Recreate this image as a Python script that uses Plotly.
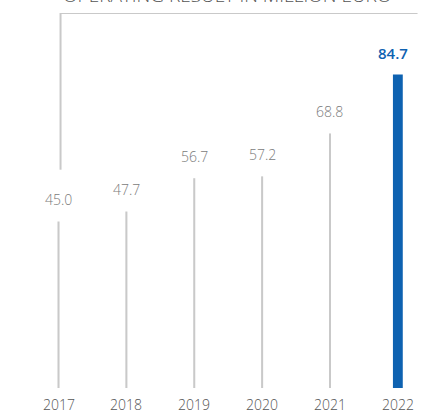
import plotly.graph_objects as go

years = ["2017", "2018", "2019", "2020", "2021", "2022"]
values = [45.0, 47.7, 56.7, 57.2, 68.8, 84.7]
labels = ["45.0", "47.7", "56.7", "57.2", "68.8", "84.7"]
title_text = "OPERATING RESULT IN MILLION EURO"

GRAY_BAR = "#c9c9c9"
GRAY_TXT = "#7b7b7b"
YEAR_TXT = "#555555"
BLUE = "#0e62b1"
FONT = "Open Sans"

n = len(years)
colors = [GRAY_BAR] * (n - 1) + [BLUE]
widths = [0.03] * (n - 1) + [0.145]

fig = go.Figure()
fig.add_trace(go.Bar(
    x=list(range(n)), y=values,
    marker=dict(color=colors, line=dict(width=0)),
    width=widths, hoverinfo="skip", showlegend=False,
))

ymax = 101.35
annotations = []
for i, (v, lab) in enumerate(zip(values, labels)):
    last = i == n - 1
    annotations.append(dict(
        x=i, y=v, xref="x", yref="y", text=lab, showarrow=False,
        yanchor="middle", yshift=22, xshift=-5 if last else 0,
        font=dict(family=FONT, size=15 if last else 14,
                  color=BLUE if last else GRAY_TXT,
                  weight=600 if last else 300),
    ))
for i, yr in enumerate(years):
    annotations.append(dict(
        x=i, y=0, xref="x", yref="y", text=yr, showarrow=False,
        yanchor="middle", yshift=-16,
        font=dict(family=FONT, size=14, color=YEAR_TXT, weight=300),
    ))
annotations.append(dict(
    x=0.03, y=1.0, xref="x", yref="paper", text=title_text, showarrow=False,
    xanchor="left", yanchor="bottom", yshift=3,
    font=dict(family=FONT, size=19, color="#555555", weight=300),
))

shapes = [
    dict(type="line", xref="x", yref="y", x0=0.03, x1=5.29, y0=ymax, y1=ymax,
         line=dict(color="#c9c9c9", width=2)),
    dict(type="line", xref="x", yref="y", x0=0.03, x1=0.03, y0=ymax, y1=59.0,
         line=dict(color="#c9c9c9", width=2)),
]

fig.update_layout(
    width=427, height=413,
    margin=dict(l=11, r=2, t=13, b=25),
    paper_bgcolor="white", plot_bgcolor="white",
    xaxis=dict(range=[-0.7, 5.4], visible=False),
    yaxis=dict(range=[0, ymax], visible=False),
    annotations=annotations, shapes=shapes,
)
fig.write_html(
    "out.html",
    config={"displayModeBar": False},
    post_script="document.body.style.margin='0';document.body.style.padding='0';",
)
